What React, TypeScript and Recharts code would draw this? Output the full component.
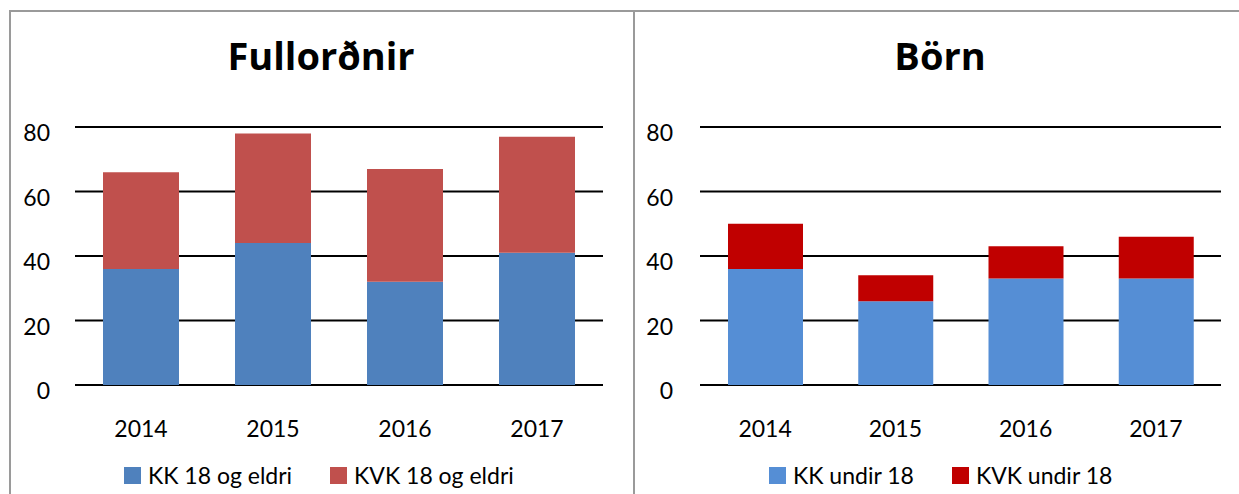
import React from 'react';
import { BarChart, Bar, XAxis, YAxis, CartesianGrid, Legend } from 'recharts';

const years = ['2014', '2015', '2016', '2017'];
const kkAdults = [36, 44, 32, 41];
const kvkAdults = [30, 34, 35, 36];
const kkKids = [36, 26, 33, 33];
const kvkKids = [14, 8, 10, 13];
const yTicks = [0, 20, 40, 60, 80];

const adultRows = years.map((y, i) => ({ year: y, kk: kkAdults[i], kvk: kvkAdults[i] }));
const kidRows = years.map((y, i) => ({ year: y, kk: kkKids[i], kvk: kvkKids[i] }));

const FONT = 'Lato, "Open Sans", sans-serif';
const TITLE_FONT = '"Open Sans", Lato, sans-serif';

const LegendContent = (props: any) => {
  const { payload } = props;
  return (
    <div style={{ display: 'flex', alignItems: 'center', height: 26, fontFamily: FONT, fontSize: 23, color: '#000', whiteSpace: 'nowrap' }}>
      {(payload || []).map((p: any, i: number) => (
        <div key={i} style={{ display: 'flex', alignItems: 'center', marginRight: i === 0 ? 38 : 0 }}>
          <div style={{ width: 17, height: 17, background: p.color, marginRight: 7 }} />
          <span>{p.value}</span>
        </div>
      ))}
    </div>
  );
};

type PanelProps = {
  rows: any[];
  width: number;
  yWidth: number;
  right: number;
  barSize: number;
  c1: string;
  c2: string;
  n1: string;
  n2: string;
  legendLeft: number;
  yMargin: number;
};

const Panel = ({ rows, width, yWidth, right, barSize, c1, c2, n1, n2, legendLeft, yMargin }: PanelProps) => (
  <BarChart width={width} height={494} data={rows} margin={{ top: 127, right, bottom: 9, left: 0 }}>
    <CartesianGrid horizontal vertical={false} stroke="#000" strokeWidth={2} />
    <XAxis
      dataKey="year"
      height={60}
      axisLine={false}
      tickLine={false}
      tickSize={0}
      tickMargin={36}
      tick={{ fill: '#000', fontSize: 23, fontFamily: FONT }}
      interval={0}
    />
    <YAxis
      width={yWidth}
      domain={[0, 80]}
      ticks={yTicks}
      axisLine={false}
      tickLine={false}
      tickSize={0}
      tickMargin={yMargin}
      tick={{ fill: '#000', fontSize: 23, fontFamily: FONT, dy: 6 }}
    />
    <Legend
      verticalAlign="bottom"
      content={<LegendContent />}
      wrapperStyle={{ left: legendLeft, top: 462, width: 'auto', height: 40 }}
    />
    <Bar dataKey="kk" name={n1} stackId="a" fill={c1} barSize={barSize} isAnimationActive={false} />
    <Bar dataKey="kvk" name={n2} stackId="a" fill={c2} barSize={barSize} isAnimationActive={false} />
  </BarChart>
);

const titleStyle: React.CSSProperties = {
  position: 'absolute',
  top: 36,
  fontFamily: TITLE_FONT,
  fontWeight: 700,
  fontSize: 38,
  lineHeight: '38px',
  textAlign: 'center',
  color: '#000',
};

export default function App() {
  return (
    <div style={{ position: 'absolute', left: 0, top: 0, width: 1239, height: 494, overflow: 'hidden', background: '#fff' }}>
      <div style={{ position: 'absolute', left: 9, top: 10, width: 1300, height: 600, borderTop: '2px solid #9a9a9a', borderLeft: '2px solid #9a9a9a' }} />
      <div style={{ position: 'absolute', left: 633, top: 10, width: 2, height: 600, background: '#9a9a9a' }} />
      <div style={{ position: 'absolute', left: 0, top: 0 }}>
        <Panel rows={adultRows} width={632} yWidth={75} right={29} barSize={76} c1="#4F81BD" c2="#C0504D" n1="KK 18 og eldri" n2="KVK 18 og eldri" legendLeft={124} yMargin={25} />
      </div>
      <div style={{ position: 'absolute', left: 634, top: 0 }}>
        <Panel rows={kidRows} width={605} yWidth={66} right={18} barSize={75} c1="#558ED5" c2="#C00000" n1="KK undir 18" n2="KVK undir 18" legendLeft={135} yMargin={27} />
      </div>
      <div style={{ ...titleStyle, left: 11, width: 620 }}>Fullorðnir</div>
      <div style={{ ...titleStyle, left: 635, width: 610 }}>Börn</div>
    </div>
  );
}
